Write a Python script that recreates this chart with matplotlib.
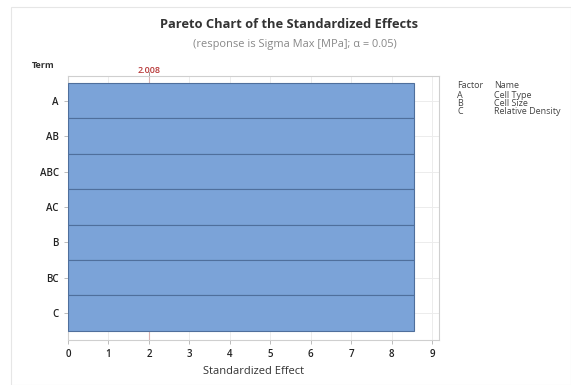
import matplotlib.pyplot as plt
from matplotlib.patches import Rectangle

terms = ["A", "AB", "ABC", "AC", "B", "BC", "C"]
effects = [8.55, 8.55, 8.55, 8.55, 8.55, 8.55, 8.55]
critical = 2.008
x_ticks = [0, 1, 2, 3, 4, 5, 6, 7, 8, 9]
factors = ["A", "B", "C"]
factor_names = ["Cell Type", "Cell Size", "Relative Density"]

plt.rcParams['font.family'] = ['Open Sans', 'DejaVu Sans']

fig = plt.figure(figsize=(5.71, 3.85), dpi=100)
W, H = 571, 385

# light panel frame
fig.patches.append(Rectangle((11 / W, 0), 1 - 11 / W, 1 - 7 / H, transform=fig.transFigure,
                             fill=False, edgecolor='#e6e6e6', linewidth=0.8))

ax = fig.add_axes([68 / W, 1 - 340 / H, (439 - 68) / W, (340 - 76) / H])
ypos = list(range(len(terms)))
ax.barh(ypos, effects, height=1.0, color='#7ba3d8', edgecolor='#4f6f9c', linewidth=0.8, zorder=3)
ax.axvline(critical, color='#d9b4b4', linewidth=0.8, zorder=2)

ax.set_xlim(0, 9.17)
ax.set_ylim(6.76, -0.7)
ax.set_yticks(ypos)
ax.set_yticklabels(terms)
ax.set_xticks(x_ticks)
ax.grid(True, color='#ececec', linewidth=0.7, zorder=0)
ax.set_axisbelow(True)
for s in ax.spines.values():
    s.set_color('#cfcfcf')
    s.set_linewidth(0.8)
ax.tick_params(axis='both', colors='#bbbbbb', length=3, width=0.7, labelcolor='#222222', labelsize=7)
for lbl in ax.get_xticklabels() + ax.get_yticklabels():
    lbl.set_fontweight('semibold')

ax.set_xlabel("Standardized Effect", fontsize=8, color='#333333', labelpad=4)

# critical value marker above the frame
ax.text(critical, 1.005, f"{critical:.3f}", transform=ax.get_xaxis_transform(),
        ha='center', va='bottom', fontsize=6.5, color='#b83a3a', fontweight='semibold')
ax.plot([critical, critical], [1.0, 1.015], transform=ax.get_xaxis_transform(),
        color='#999999', linewidth=0.7, clip_on=False)

fig.text(43 / W, 1 - 65 / H, "Term", ha='center', va='center', fontsize=6.5,
         fontweight='bold', color='#333333')

fig.text(289 / W, 1 - 24 / H, "Pareto Chart of the Standardized Effects", ha='center',
         va='center', fontsize=9.3, fontweight='bold', color='#333333')
fig.text(295 / W, 1 - 44 / H, "(response is Sigma Max [MPa]; \u03b1 = 0.05)", ha='center',
         va='center', fontsize=7.9, color='#888888')

# factor key
fig.text(457 / W, 1 - 85 / H, "Factor", fontsize=6.5, color='#444444', va='center')
fig.text(494 / W, 1 - 85 / H, "Name", fontsize=6.5, color='#444444', va='center')
for i, (f, n) in enumerate(zip(factors, factor_names)):
    y = 1 - (95.5 + 8.2 * i) / H
    fig.text(457 / W, y, f, fontsize=6.5, color='#444444', va='center')
    fig.text(494 / W, y, n, fontsize=6.5, color='#444444', va='center')

fig.savefig("out.png", dpi=100)
